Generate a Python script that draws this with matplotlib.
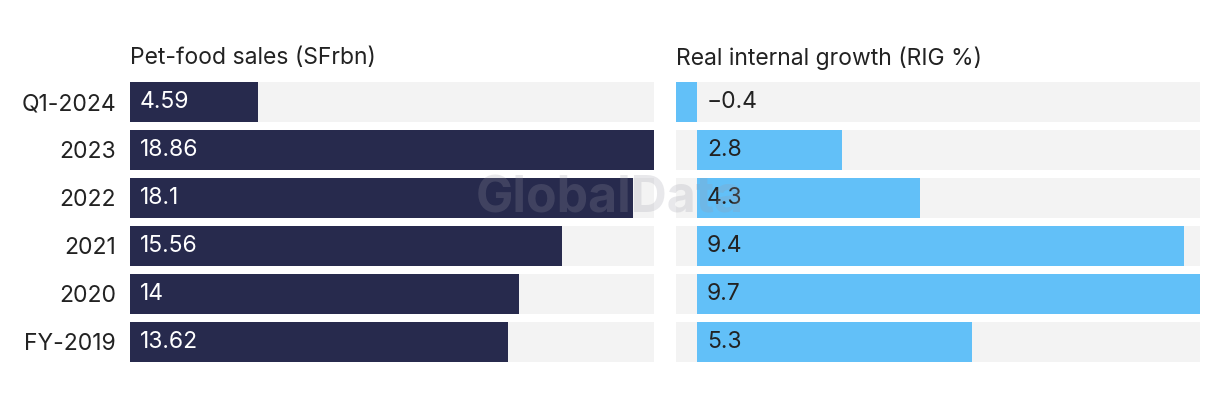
import matplotlib
matplotlib.use("Agg")
from matplotlib import pyplot as plt
from matplotlib import transforms

plt.rcParams['font.family'] = ['Inter', 'DejaVu Sans']

years = ['Q1-2024', '2023', '2022', '2021', '2020', 'FY-2019']
sales = [4.59, 18.86, 18.1, 15.56, 14, 13.62]
sales_labels = ['4.59', '18.86', '18.1', '15.56', '14', '13.62']
rig = [-0.4, 2.8, 4.3, 9.4, 9.7, 5.3]
rig_labels = ['\u22120.4', '2.8', '4.3', '9.4', '9.7', '5.3']

navy = '#272a4d'
blue = '#62c0f8'
track = '#f3f3f3'
ink = '#222222'
fs = 16.5

fig = plt.figure(figsize=(12.2, 4.04), dpi=100)
ax1 = fig.add_axes([130 / 1220, 38 / 404, 524 / 1220, 288 / 404])
ax2 = fig.add_axes([676 / 1220, 38 / 404, 524 / 1220, 288 / 404])

pos = list(range(len(years)))
h = 0.83

# left: sales
smax = max(sales)
ax1.barh(pos, [smax] * len(pos), height=h, color=track, zorder=1)
ax1.barh(pos, sales, height=h, color=navy, zorder=2)
ax1.set_xlim(0, smax)
off1 = transforms.offset_copy(ax1.transData, fig=fig, x=10, y=0, units='dots')
for p, lab in zip(pos, sales_labels):
    ax1.text(0, p, lab, transform=off1, color='white', fontsize=fs,
             va='center', ha='left', zorder=3)
ax1.set_yticks(pos)
ax1.set_yticklabels(years, fontsize=fs, color=ink)
ax1.tick_params(axis='y', length=0, pad=10)

# right: RIG
lo, hi = min(rig), max(rig)
ax2.barh(pos, [hi - lo] * len(pos), left=lo, height=h, color=track, zorder=1)
ax2.barh(pos, rig, height=h, color=blue, zorder=2)
ax2.set_xlim(lo, hi)
off2 = transforms.offset_copy(ax2.transData, fig=fig, x=10, y=0, units='dots')
for p, lab in zip(pos, rig_labels):
    ax2.text(0, p, lab, transform=off2, color=ink, fontsize=fs,
             va='center', ha='left', zorder=3)
ax2.set_yticks([])

for ax in (ax1, ax2):
    ax.set_ylim(len(pos) - 0.5, -0.5)
    ax.set_xticks([])
    for s in ax.spines.values():
        s.set_visible(False)

fig.text(130 / 1220, 1 - 58 / 404, 'Pet-food sales (SFrbn)', fontsize=fs,
         color=ink, ha='left', va='center')
fig.text(676 / 1220, 1 - 58 / 404, 'Real internal growth (RIG %)', fontsize=fs,
         color=ink, ha='left', va='center')

# watermark
fig.text(610 / 1220, 1 - 199 / 404, 'GlobalData', fontsize=36, fontweight='bold',
         color='#9a9aa6', alpha=0.22, ha='center', va='center', zorder=10)

fig.savefig('out.png', dpi=100, facecolor='white')
